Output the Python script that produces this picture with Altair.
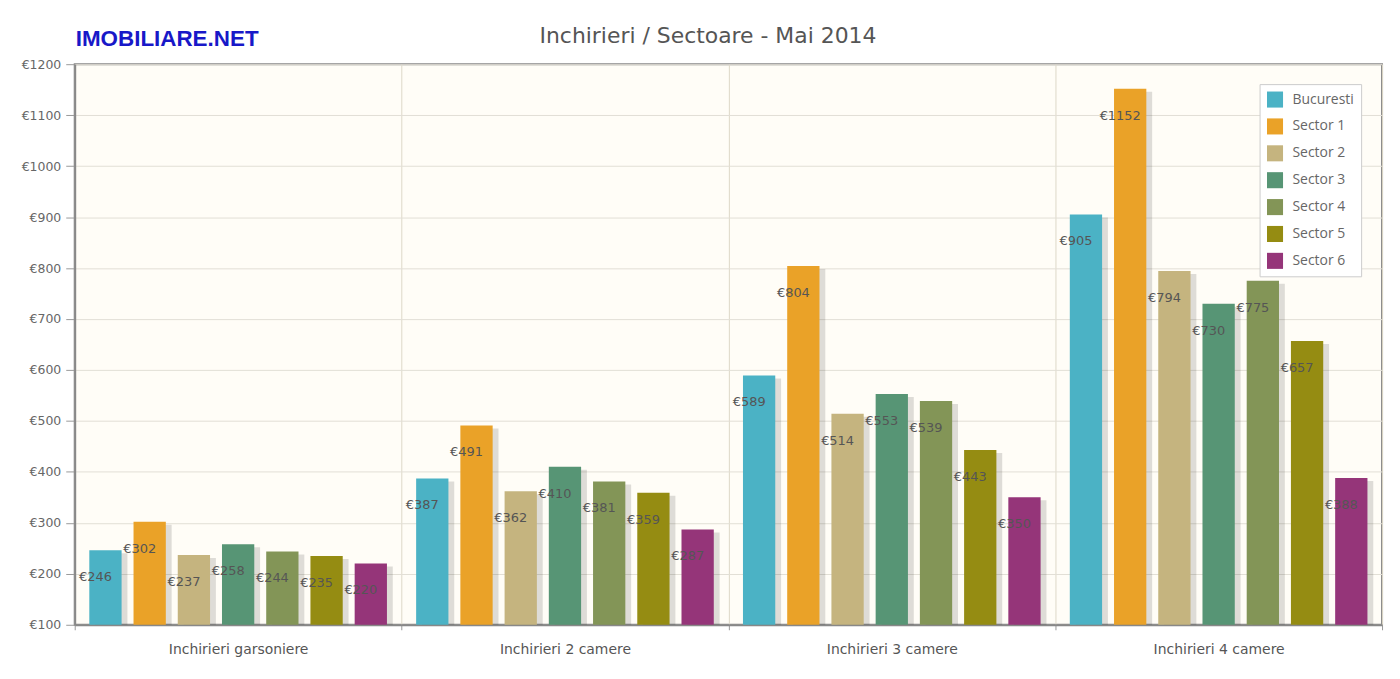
import altair as alt
import pandas as pd

categories = ["Inchirieri garsoniere", "Inchirieri 2 camere", "Inchirieri 3 camere", "Inchirieri 4 camere"]
series = ["Bucuresti", "Sector 1", "Sector 2", "Sector 3", "Sector 4", "Sector 5", "Sector 6"]
colors = ["#4bb2c5", "#EAA228", "#c5b47f", "#579575", "#839557", "#958c12", "#953579"]

bucuresti = [246, 387, 589, 905]
sector1 = [302, 491, 804, 1152]
sector2 = [237, 362, 514, 794]
sector3 = [258, 410, 553, 730]
sector4 = [244, 381, 539, 775]
sector5 = [235, 359, 443, 657]
sector6 = [220, 287, 350, 388]

values = [bucuresti, sector1, sector2, sector3, sector4, sector5, sector6]
rows = []
for s, vals in zip(series, values):
    for c, v in zip(categories, vals):
        rows.append({"cat": c, "series": s, "value": v})
df = pd.DataFrame(rows)

W, H = 1313, 563

x_enc = alt.X("cat:N", sort=categories,
              scale=alt.Scale(paddingInner=0, paddingOuter=0),
              axis=alt.Axis(title=None, labelAngle=0, labelFontSize=14, labelColor="#555",
                            labelFont="DejaVu Sans", labelPadding=13, tickBand="extent",
                            grid=True, gridColor="#ddd8c8", ticks=True, tickColor="#999",
                            domain=True, domainColor="#888", domainWidth=2))
xo_enc = alt.XOffset("series:N", sort=series,
                     scale=alt.Scale(paddingInner=0.27, paddingOuter=0.33))
xo_shadow = alt.XOffset("series:N", sort=series,
                        scale=alt.Scale(paddingInner=0.27, paddingOuter=0.33, align=0.70))
y_enc = alt.Y("value:Q",
              scale=alt.Scale(domain=[100, 1200], nice=False, zero=False),
              axis=alt.Axis(title=None, values=list(range(100, 1201, 100)),
                            labelExpr="'€' + datum.value", labelFontSize=12.5,
                            labelColor="#666", labelFont="DejaVu Sans", labelPadding=5,
                            gridColor="#e2dfd6", tickColor="#999", tickSize=9,
                            domain=True, domainColor="#888", domainWidth=2))

base = alt.Chart(df)

shadow = base.mark_bar(color="#000000", opacity=0.13, yOffset=3).encode(
    x=x_enc, xOffset=xo_shadow, y=y_enc, y2=alt.datum(100)
)

bars = base.mark_bar().encode(
    x=x_enc, xOffset=xo_enc, y=y_enc, y2=alt.datum(100),
    color=alt.Color("series:N", sort=series,
                    scale=alt.Scale(domain=series, range=colors),
                    legend=alt.Legend(title=None, orient="none", legendX=1190, legendY=20,
                                      symbolType="square", symbolSize=260,
                                      symbolStrokeWidth=0, labelFontSize=14,
                                      labelColor="#666", labelFont="Open Sans",
                                      rowPadding=10, padding=7, fillColor="white",
                                      strokeColor="#cccccc", labelOffset=9)),
)

labels = base.transform_calculate(lbl="'€' + datum.value").mark_text(
    dx=-10, dy=27, fontSize=13, color="#555", font="DejaVu Sans", align="center",
    baseline="middle"
).encode(x=x_enc, xOffset=xo_enc, y=y_enc, text="lbl:N")

main = alt.layer(shadow, alt.layer(bars, labels)).resolve_scale(xOffset="independent")

logo = alt.Chart(pd.DataFrame({"t": ["IMOBILIARE.NET"]})).mark_text(
    align="left", baseline="middle", fontSize=22.5, fontWeight="bold",
    color="#1818c8", font="Liberation Sans"
).encode(x=alt.value(1), y=alt.value(-25), text="t:N")

title = alt.Chart(pd.DataFrame({"t": ["Inchirieri / Sectoare - Mai 2014"]})).mark_text(
    align="center", baseline="middle", fontSize=22,
    color="#555", font="DejaVu Sans"
).encode(x=alt.value(636), y=alt.value(-28), text="t:N")

chart = alt.layer(main, logo, title).properties(
    width=W, height=H,
    autosize=alt.AutoSizeParams(type="none"),
    padding={"left": 67, "top": 55, "right": 10, "bottom": 50},
    background="white",
).configure_view(fill="#fffdf7", stroke="#888", strokeWidth=2)

chart.save("out.html", embed_options={"renderer": "svg", "actions": False})
